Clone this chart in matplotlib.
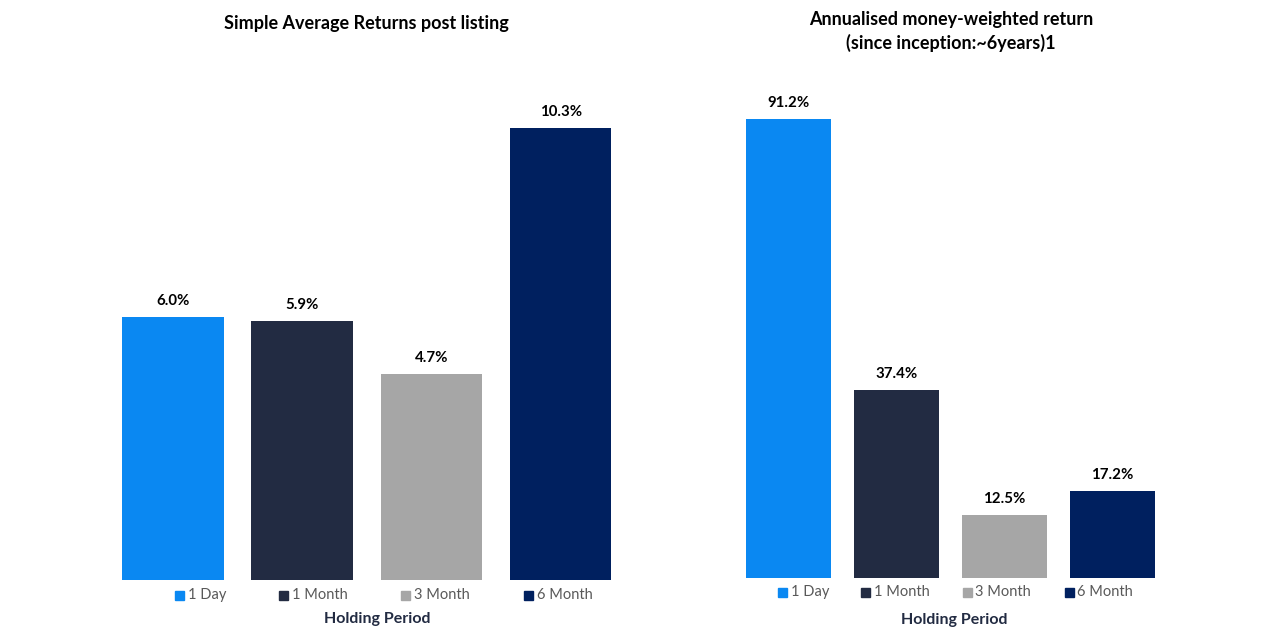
import matplotlib.pyplot as plt
from matplotlib.patches import Rectangle
import numpy as np

# data
periods = ['1 Day', '1 Month', '3 Month', '6 Month']
simple_avg = [6.0, 5.9, 4.7, 10.3]
money_weighted = [91.2, 37.4, 12.5, 17.2]
colors = ['#0A88F2', '#222B42', '#A6A6A6', '#00205F']

plt.rcParams['font.family'] = ['Lato', 'DejaVu Sans']

W, H = 1269, 637
fig = plt.figure(figsize=(W / 100, H / 100), dpi=100)


def px_axes(left, right, top, bottom):
    return fig.add_axes([left / W, 1 - bottom / H, (right - left) / W, (bottom - top) / H])


def draw_panel(ax, values, ymax):
    x = np.arange(len(values))
    bars = ax.bar(x, values, width=0.785, color=colors)
    ax.set_xlim(-0.5, len(values) - 0.5)
    ax.set_ylim(0, ymax)
    ax.axis('off')
    for b, v in zip(bars, values):
        ax.annotate(f'{v:.1f}%', (b.get_x() + b.get_width() / 2, v),
                    xytext=(0, 9), textcoords='offset pixels',
                    ha='center', va='bottom', fontsize=10.8, fontweight='bold', color='black')


def legend_row(sq_x, txt_x, y):
    for sx, tx, lab, c in zip(sq_x, txt_x, periods, colors):
        fig.add_artist(Rectangle((sx / W, 1 - (y + 4.5) / H), 9 / W, 9 / H,
                                 transform=fig.transFigure, color=c))
        fig.text(tx / W, 1 - y / H, lab, ha='left', va='center',
                 fontsize=10.5, color='#595959')


# left panel
ax1 = px_axes(108.4, 625.2, 60, 580)
draw_panel(ax1, simple_avg, (580 - 60) / 43.9)
fig.text(366 / W, 1 - 23 / H, 'Simple Average Returns post listing',
         ha='center', va='center', fontsize=13, fontweight='bold', color='black')
legend_row([175, 279, 401, 524], [188, 292, 414, 537], 595)
fig.text(377 / W, 1 - 619 / H, 'Holding Period', ha='center', va='center',
         fontsize=11.5, fontweight='bold', color='#222B42')

# right panel
ax2 = px_axes(734.5, 1166.5, 60, 578)
draw_panel(ax2, money_weighted, (578 - 60) / 5.03)
fig.text(951 / W, 1 - 20 / H, 'Annualised money-weighted return',
         ha='center', va='center', fontsize=13, fontweight='bold', color='black')
fig.text(951 / W, 1 - 43 / H, '(since inception:~6years)1',
         ha='center', va='center', fontsize=13, fontweight='bold', color='black')
legend_row([778, 861, 963, 1065], [791, 874, 975, 1077], 592)
fig.text(954 / W, 1 - 620 / H, 'Holding Period', ha='center', va='center',
         fontsize=11.5, fontweight='bold', color='#222B42')

fig.savefig('out.png', dpi=100)
